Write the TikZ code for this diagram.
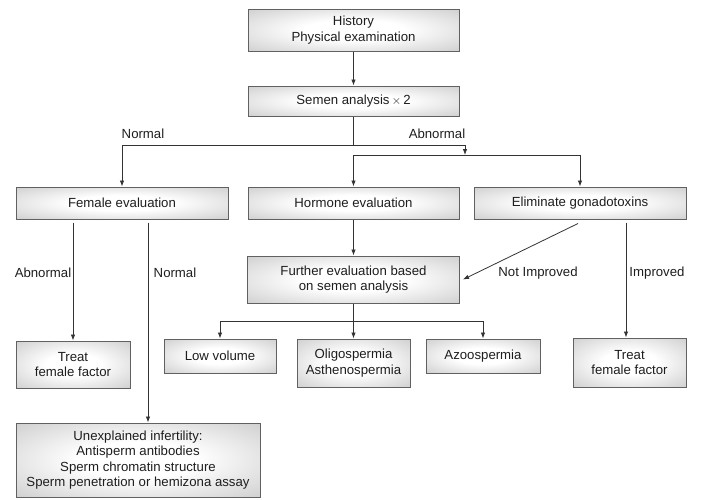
\documentclass[tikz,border=0pt]{standalone}
\usepackage{fontspec}
\setmainfont{Liberation Sans}
\usetikzlibrary{arrows.meta}
\pgfdeclareradialshading{boxglow}{\pgfpoint{0bp}{0bp}}{color(0bp)=(white); color(12bp)=(white); color(40bp)=(black!22); color(50bp)=(black!30); color(72bp)=(black!34)}
\definecolor{linec}{HTML}{333333}
\definecolor{textc}{HTML}{1E1E1E}
\begin{document}
\begin{tikzpicture}[x=1pt,y=-1pt,
  font=\fontsize{13.2}{15.5}\selectfont, text=textc,
  box/.style={draw=black!62, line width=1pt, shading=boxglow, align=center, inner sep=0pt},
  arr/.style={draw=linec, line width=0.8pt, -{Latex[length=6pt,width=4.5pt]}},
  ln/.style={draw=linec, line width=0.8pt},
  lab/.style={inner sep=0pt}]
\useasboundingbox (0,0) rectangle (703,499);
% boxes
\node[box, minimum width=211pt, minimum height=42pt] (hist) at (353.5,30) {History\\Physical examination};
\node[box, minimum width=211pt, minimum height=30pt] (semen) at (353.5,101) {Semen analysis\,$\times$\,2};
\node[box, minimum width=212pt, minimum height=32pt] (female) at (122,203) {Female evaluation};
\node[box, minimum width=211pt, minimum height=32pt] (hormone) at (353.5,203) {Hormone evaluation};
\node[box, minimum width=212pt, minimum height=32pt] (elim) at (580,203) {Eliminate gonadotoxins};
\node[box, minimum width=212pt, minimum height=47pt] (further) at (353.5,279.5) {Further evaluation based\\on semen analysis};
\node[box, minimum width=114pt, minimum height=47pt] (treatL) at (73,364.5) {Treat\\female factor};
\node[box, minimum width=112pt, minimum height=34pt] (low) at (220,356) {Low volume};
\node[box, minimum width=113pt, minimum height=48pt] (oligo) at (353.5,363) {Oligospermia\\Asthenospermia};
\node[box, minimum width=114pt, minimum height=34pt] (azoo) at (483,356) {Azoospermia};
\node[box, minimum width=113pt, minimum height=49pt] (treatR) at (629.5,362.5) {Treat\\female factor};
\node[box, minimum width=244pt, minimum height=74pt] (unexp) at (138,460) {Unexplained infertility:\\Antisperm antibodies\\Sperm chromatin structure\\Sperm penetration or hemizona assay};
% junction coordinates
\coordinate (j1) at (353.5,145);
\coordinate (jr) at (465,145);
\coordinate (j2) at (465,155);
\coordinate (j3) at (353.5,321);
% connectors
\draw[arr] (hist) -- (semen);
\draw[ln] (semen.south) -- (j1);
\draw[arr] (j1) -| (female.north);
\draw[ln] (j1) -- (jr);
\draw[arr] (jr) -- (j2);
\draw[arr] (j2) -| (hormone.north);
\draw[arr] (j2) -| (elim.north);
\draw[arr] (hormone) -- (further);
\draw[arr] ([xshift=-2pt,yshift=-4pt]elim.south) -- ([xshift=3pt]further.east);
\draw[arr] ([yshift=-3pt]female.south -| treatL.north) -- (treatL.north);
\draw[arr] ([xshift=26pt,yshift=-3pt]female.south) -- ([xshift=10pt]unexp.north);
\draw[arr] ([xshift=46pt,yshift=-3pt]elim.south) -- ([xshift=-3.5pt]treatR.north);
\draw[arr] (further.south) -- (oligo.north);
\draw[arr] (j3) -| (low.north);
\draw[arr] (j3) -| (azoo.north);
% labels
\node[lab] (l1) at (143,134) {Normal};
\node[lab] (l2) at (437,134) {Abnormal};
\node[lab] (l3) at (43,273) {Abnormal};
\node[lab] (l4) at (175,273) {Normal};
\node[lab] (l5) at (538,273) {Not Improved};
\node[lab] (l6) at (657,273) {Improved};
\end{tikzpicture}
\end{document}
